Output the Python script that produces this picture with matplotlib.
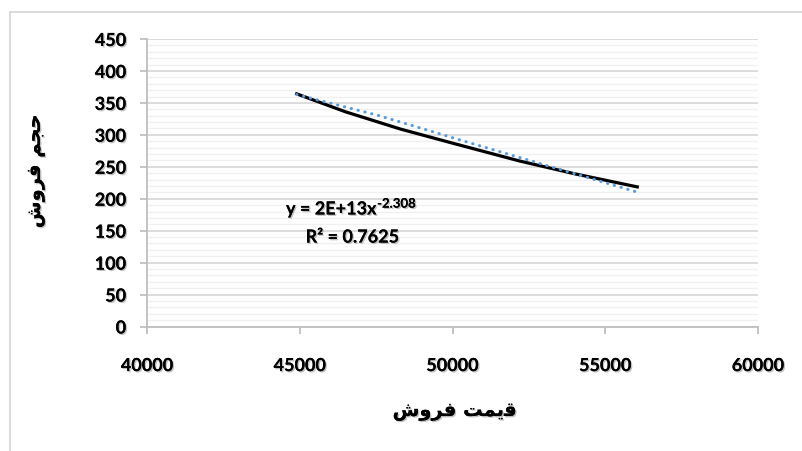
import matplotlib.pyplot as plt
import matplotlib.patheffects as pe
from matplotlib.lines import Line2D

plt.rcParams['font.family'] = ['Lato', 'DejaVu Sans']
plt.rcParams['font.weight'] = 'bold'

# data
price = [44850, 46500, 48300, 50000, 52200, 54000, 56100]
volume = [365, 336, 309, 287, 259, 239, 218]

# power trendline as drawn
trend_x = [44900, 47600, 50600, 53300, 56000]
trend_y = [363, 330, 287, 249, 211]

x_ticks = [40000, 45000, 50000, 55000, 60000]
y_ticks = list(range(0, 451, 50))

# Persian labels in visual order (presentation forms)
xlabel = '\uFEB5\uFEED\uFEAE\uFED3 \uFE96\uFEE4\uFBFE\uFED7'   # قیمت فروش
ylabel = '\uFEB5\uFEED\uFEAE\uFED3 \uFEE2\uFEA0\uFEA3'         # حجم فروش

shadow = [pe.withSimplePatchShadow(offset=(1, -1), shadow_rgbFace='#999999', alpha=0.6), pe.Normal()]

fig = plt.figure(figsize=(8.02, 4.52), dpi=100)
ax = fig.add_axes([147/802, 1-327.5/452, 611/802, 287.5/452])

ax.plot(price, volume, color='black', lw=2.3, solid_capstyle='butt', zorder=3)
ax.plot(trend_x, trend_y, color='#5b9bd5', lw=2.2, linestyle=(0, (0.1, 2.2)),
        dash_capstyle='round', zorder=4)

ax.set_xlim(40000, 60000)
ax.set_ylim(0, 450)
ax.set_xticks(x_ticks)
ax.set_yticks(y_ticks)
ax.set_yticks(range(0, 451, 10), minor=True)
ax.grid(axis='y', which='major', color='#d9d9d9', lw=1.3)
ax.grid(axis='y', which='minor', color='#f0f0f0', lw=1.0)
ax.set_axisbelow(True)

for s in ['top', 'right']:
    ax.spines[s].set_visible(False)
for s in ['left', 'bottom']:
    ax.spines[s].set_color('#bfbfbf')
    ax.spines[s].set_linewidth(1.3)

ax.tick_params(axis='x', which='major', direction='out', length=5, width=1.3, color='#bfbfbf',
               pad=17, labelsize=13)
ax.tick_params(axis='y', which='major', direction='out', length=5, width=1.3, color='#bfbfbf',
               pad=10, labelsize=13)
ax.tick_params(axis='y', which='minor', length=0)
for lab in ax.get_xticklabels() + ax.get_yticklabels():
    lab.set_fontweight('bold')
    lab.set_path_effects(shadow)

# trendline equation with superscript exponent
eq = ax.text(44550, 184, 'y = 2E+13x', ha='left', va='center',
             fontsize=13, fontweight='bold', path_effects=shadow)
ax.annotate('-2.308', xy=(1, 1), xycoords=eq, xytext=(0.5, 2), textcoords='offset points',
            ha='left', va='top', fontsize=9.5, fontweight='bold', path_effects=shadow)
ax.text(46720, 140, 'R\u00b2 = 0.7625', ha='center', va='center',
        fontsize=13, fontweight='bold', path_effects=shadow)

fig.text(455/802, 1-412/452, xlabel, ha='center', va='center', fontsize=14,
         fontweight='bold', family=['DejaVu Sans'], path_effects=shadow)
fig.text(35/802, 1-172/452, ylabel, ha='center', va='center', fontsize=14, rotation=90,
         fontweight='bold', family=['DejaVu Sans'], path_effects=shadow)

# outer chart frame
fig.add_artist(Line2D([10/802, 10/802], [0, 1-13/452], color='#d9d9d9', lw=1.3,
                      transform=fig.transFigure))
fig.add_artist(Line2D([10/802, 1], [1-13/452, 1-13/452], color='#d9d9d9', lw=1.3,
                      transform=fig.transFigure))

fig.savefig('out.png', dpi=100)
